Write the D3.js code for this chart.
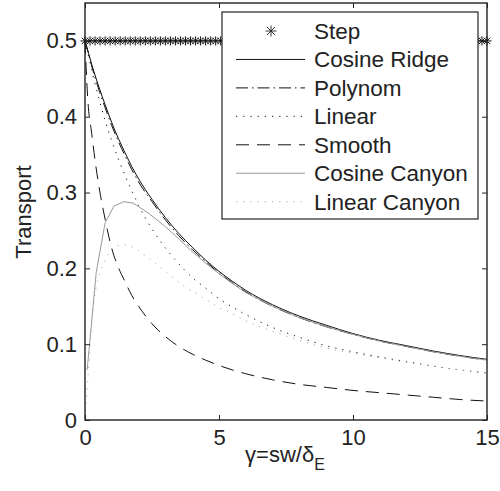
<!DOCTYPE html>
<html><head><meta charset="utf-8">
<script src="https://cdn.jsdelivr.net/npm/d3@7"></script>
<style>body{margin:0;background:#fff}svg{display:block}text{font-family:"Liberation Sans",Arial,sans-serif;fill:#222}</style>
</head><body><svg id="c" width="500" height="491"></svg>
<script>
(function(){
// ---- data ----
const xTicks = [0, 5, 10, 15];
const yTicks = [0, 0.1, 0.2, 0.3, 0.4, 0.5];
const yTickLabels = ["0", "0.1", "0.2", "0.3", "0.4", "0.5"];
const seriesNames = ["Step", "Cosine Ridge", "Polynom", "Linear", "Smooth", "Cosine Canyon", "Linear Canyon"];

const stepX = [0,0.1875,0.375,0.5625,0.75,0.9375,1.125,1.3125,1.5,1.6875,1.875,2.0625,2.25,2.4375,2.625,2.8125,
  3,3.1875,3.375,3.5625,3.75,3.9375,4.125,4.3125,4.5,4.6875,4.875,5.0625,5.25,5.4375,5.625,5.8125,
  6,6.1875,6.375,6.5625,6.75,6.9375,7.125,7.3125,7.5,7.6875,7.875,8.0625,8.25,8.4375,8.625,8.8125,
  9,9.1875,9.375,9.5625,9.75,9.9375,10.125,10.3125,10.5,10.6875,10.875,11.0625,11.25,11.4375,11.625,11.8125,
  12,12.1875,12.375,12.5625,12.75,12.9375,13.125,13.3125,13.5,13.6875,13.875,14.0625,14.25,14.4375,14.625,14.8125,15];
const stepY = [0.5,0.5,0.5,0.5,0.5,0.5,0.5,0.5,0.5,0.5,0.5,0.5,0.5,0.5,0.5,0.5,
  0.5,0.5,0.5,0.5,0.5,0.5,0.5,0.5,0.5,0.5,0.5,0.5,0.5,0.5,0.5,0.5,
  0.5,0.5,0.5,0.5,0.5,0.5,0.5,0.5,0.5,0.5,0.5,0.5,0.5,0.5,0.5,0.5,
  0.5,0.5,0.5,0.5,0.5,0.5,0.5,0.5,0.5,0.5,0.5,0.5,0.5,0.5,0.5,0.5,
  0.5,0.5,0.5,0.5,0.5,0.5,0.5,0.5,0.5,0.5,0.5,0.5,0.5,0.5,0.5,0.5,0.5];

const gridX = [0,0.1,0.25,0.4,0.55,0.75,1,1.25,1.5,1.75,2,2.5,3,3.5,4,4.5,5,5.5,6,7,8,9,10,11,12,13,14,15];
const cosineRidge = [0.5,0.488,0.469,0.452,0.436,0.416,0.392,0.371,0.352,0.334,0.318,0.291,0.267,0.246,0.228,0.211,0.196,0.183,0.171,0.152,0.137,0.125,0.114,0.105,0.098,0.091,0.085,0.080];
const polynom     = [0.5,0.487,0.467,0.449,0.432,0.412,0.388,0.367,0.348,0.330,0.314,0.288,0.264,0.243,0.225,0.209,0.194,0.181,0.169,0.150,0.135,0.123,0.113,0.104,0.097,0.090,0.084,0.079];
const linear      = [0.5,0.485,0.462,0.440,0.420,0.395,0.368,0.344,0.322,0.302,0.283,0.252,0.227,0.206,0.188,0.174,0.160,0.149,0.139,0.122,0.109,0.098,0.090,0.083,0.077,0.071,0.066,0.062];
const smooth      = [0.5,0.425,0.378,0.336,0.302,0.265,0.226,0.201,0.182,0.164,0.150,0.127,0.110,0.097,0.087,0.079,0.072,0.066,0.061,0.053,0.047,0.043,0.039,0.036,0.033,0.030,0.027,0.025];

const cosCanyonX = [0.08,0.42,0.75,1.08,1.45,1.8,2.4,3,3.5,4,4.5,5,5.5,6,7,8,9,10,11,12,13,14,15];
const cosCanyon  = [0.066,0.195,0.260,0.282,0.288,0.286,0.272,0.255,0.239,0.222,0.207,0.193,0.180,0.168,0.150,0.135,0.123,0.113,0.104,0.097,0.090,0.084,0.079];

const linCanyonX = [0.02,0.1,0.25,0.4,0.56,0.71,0.87,1.1,1.5,1.9,2.2,2.5,2.8,3.1,3.4,3.75,4.1,4.4,4.75,5,5.4,5.7,6,7,8,9,10,11,12,13,14,15];
const linCanyon  = [0.012,0.05,0.125,0.172,0.194,0.207,0.219,0.229,0.231,0.2255,0.218,0.21,0.202,0.193,0.185,0.175,0.168,0.161,0.154,0.148,0.142,0.1365,0.131,0.117,0.105,0.095,0.088,0.082,0.076,0.071,0.066,0.062];

// ---- layout ----
const L = 85, R = 487, T = 3, B = 420;
const FS = 22;
const svg = d3.select("#c");
const x = d3.scaleLinear().domain([0, 15]).range([L, R]);
const y = d3.scaleLinear().domain([0, 0.55]).range([B, T]);

const styles = {
  "Cosine Ridge": {color: "#111", dash: null},
  "Polynom": {color: "#111", dash: "12,4,1.5,4"},
  "Linear": {color: "#111", dash: "1.2,6"},
  "Smooth": {color: "#111", dash: "13,8"},
  "Cosine Canyon": {color: "#999", dash: null},
  "Linear Canyon": {color: "#aaa", dash: "1.2,6"}
};
const lineData = [
  {name: "Cosine Ridge", xs: gridX, ys: cosineRidge},
  {name: "Polynom", xs: gridX, ys: polynom},
  {name: "Linear", xs: gridX, ys: linear},
  {name: "Smooth", xs: gridX, ys: smooth},
  {name: "Cosine Canyon", xs: cosCanyonX, ys: cosCanyon},
  {name: "Linear Canyon", xs: linCanyonX, ys: linCanyon}
];

const line = d3.line().x(d => x(d[0])).y(d => y(d[1])).curve(d3.curveMonotoneX);
const linePlain = d3.line().x(d => x(d[0])).y(d => y(d[1]));

const g = svg.append("g");
lineData.forEach(s => {
  const pts = s.xs.map((v, i) => [v, s.ys[i]]);
  g.append("path")
    .attr("d", (s.name === "Cosine Canyon" ? linePlain : line)(pts))
    .attr("fill", "none")
    .attr("stroke", styles[s.name].color)
    .attr("stroke-width", 1)
    .attr("stroke-dasharray", styles[s.name].dash);
});

function starPath(r) {
  const d = r * 0.72;
  return `M${-r},0L${r},0M0,${-r}L0,${r}M${-d},${-d}L${d},${d}M${-d},${d}L${d},${-d}`;
}
g.selectAll(".star").data(stepX.map((v, i) => [v, stepY[i]])).join("path")
  .attr("transform", d => `translate(${x(d[0])},${y(d[1])})`)
  .attr("d", starPath(4.5))
  .attr("stroke", "#111").attr("stroke-width", 1).attr("fill", "none");

// ---- axes ----
const axG = svg.append("g");
const axBottom = axG.append("g").attr("transform", `translate(0,${B})`)
  .call(d3.axisBottom(x).tickValues(xTicks).tickSizeInner(-5).tickSizeOuter(0).tickPadding(9));
axG.append("g").attr("transform", `translate(${L},0)`)
  .call(d3.axisLeft(y).tickValues(yTicks).tickFormat((d, i) => yTickLabels[i]).tickSizeInner(-5).tickSizeOuter(0).tickPadding(8));
axG.append("g").attr("transform", `translate(0,${T})`)
  .call(d3.axisTop(x).tickValues(xTicks).tickSizeInner(-5).tickSizeOuter(0).tickFormat(""));
axG.append("g").attr("transform", `translate(${R},0)`)
  .call(d3.axisRight(y).tickValues(yTicks).tickSizeInner(-5).tickSizeOuter(0).tickFormat(""));
axG.selectAll(".domain").attr("stroke", "none");
axG.selectAll(".tick line").attr("stroke", "#222").attr("stroke-width", 1);
axG.selectAll(".tick text").attr("font-size", FS).attr("font-family", "Liberation Sans, Arial, sans-serif").attr("fill", "#222");
axBottom.selectAll(".tick text").attr("dy", "0.71em");
axG.append("rect").attr("x", L).attr("y", T).attr("width", R - L).attr("height", B - T)
  .attr("fill", "none").attr("stroke", "#222").attr("stroke-width", 1.4);

// ---- legend ----
const lg = svg.append("g");
const lx0 = 222, ly0 = 12, lw = 256, lh = 207;
lg.append("rect").attr("x", lx0).attr("y", ly0).attr("width", lw).attr("height", lh)
  .attr("fill", "#fff").attr("stroke", "#222").attr("stroke-width", 1.2);
seriesNames.forEach((name, i) => {
  const cy = 31 + i * 28.45;
  if (name === "Step") {
    lg.append("path").attr("transform", `translate(271,${cy})`).attr("d", starPath(5.5))
      .attr("stroke", "#222").attr("stroke-width", 0.9).attr("fill", "none");
  } else {
    lg.append("line").attr("x1", 236).attr("x2", 305).attr("y1", cy).attr("y2", cy)
      .attr("stroke", styles[name].color).attr("stroke-width", 1)
      .attr("stroke-dasharray", styles[name].dash);
  }
  lg.append("text").attr("x", 314).attr("y", cy + 8).attr("font-size", FS + 0.5).text(name);
});

// ---- axis titles ----
svg.append("text").attr("transform", "translate(31,212) rotate(-90)")
  .attr("text-anchor", "middle").attr("font-size", FS).text("Transport");
const xt = svg.append("text").attr("x", 285).attr("y", 462).attr("text-anchor", "middle").attr("font-size", FS);
xt.append("tspan").text("γ=sw/δ");
xt.append("tspan").attr("dy", 8).attr("font-size", 16).text("E");
})();
</script></body></html>
